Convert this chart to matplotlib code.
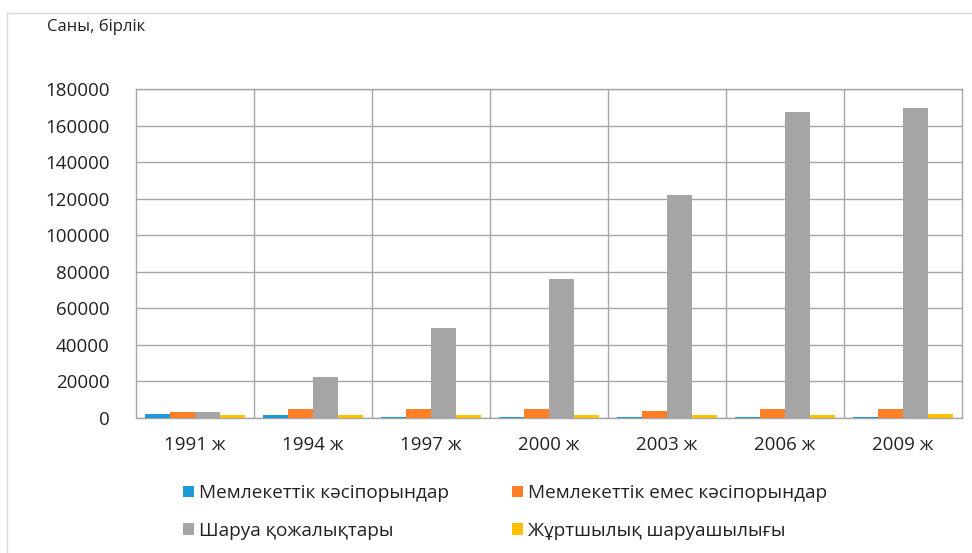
import matplotlib
matplotlib.use("Agg")
import matplotlib.pyplot as plt
from matplotlib.lines import Line2D
from matplotlib.patches import Patch
import numpy as np

plt.rcParams['font.family'] = ['Open Sans', 'Noto Sans', 'DejaVu Sans']

years = ["1991 ж", "1994 ж", "1997 ж", "2000 ж", "2003 ж", "2006 ж", "2009 ж"]
series_names = ["Мемлекеттік кәсіпорындар", "Мемлекеттік емес кәсіпорындар",
                "Шаруа қожалықтары", "Жұртшылық шаруашылығы"]
state = [2400, 1700, 500, 500, 500, 500, 500]
nonstate = [3300, 5100, 5100, 4700, 4000, 5100, 5100]
farms = [3300, 22700, 49300, 76000, 121800, 167300, 169400]
household = [1600, 1600, 1600, 1600, 1600, 1600, 2400]
colors = ["#1E9BD7", "#FF7F27", "#A5A5A5", "#FFC000"]
yticks = [0, 20000, 40000, 60000, 80000, 100000, 120000, 140000, 160000, 180000]

W, H = 972, 553
fig = plt.figure(figsize=(W / 100, H / 100), dpi=100)
ax = fig.add_axes([136 / W, 1 - 418 / H, 826 / W, 329 / H])

x = np.arange(len(years))
bw = 0.21
data = [state, nonstate, farms, household]
for i, (vals, c) in enumerate(zip(data, colors)):
    ax.bar(x + (i - 1.5) * bw, vals, width=bw, color=c, zorder=3, linewidth=0)

ax.set_xlim(-0.5, len(years) - 0.5)
ax.set_ylim(0, 180000)
ax.set_yticks(yticks)
ax.set_yticklabels([str(v) for v in yticks], fontsize=13.5, color="#222222")
ax.set_xticks(x)
ax.set_xticklabels(years, fontsize=13.5, color="#222222")
ax.tick_params(axis='y', length=0, pad=19)
ax.tick_params(axis='x', length=0, pad=13)

gc = "#A6A6A6"
ax.yaxis.grid(True, color=gc, linewidth=1.0, zorder=0)
for b in np.arange(0.5, len(years) - 0.5, 1.0):
    ax.axvline(b, color=gc, linewidth=1.0, zorder=0)
for s in ax.spines.values():
    s.set_color(gc)
    s.set_linewidth(1.0)

fig.text(47 / W, 1 - 27 / H, "Саны, бірлік", fontsize=12, va="center", ha="left", color="#222222")

handles = [Patch(facecolor=c, edgecolor='none') for c in colors]
order = [0, 2, 1, 3]
leg = fig.legend([handles[i] for i in order], [series_names[i] for i in order],
                 ncol=2, loc="center", bbox_to_anchor=(0.52, 1 - 512 / H),
                 frameon=False, fontsize=13.7, handlelength=0.55, handleheight=0.55,
                 handletextpad=0.3, columnspacing=3.3, labelspacing=1.0)
for t in leg.get_texts():
    t.set_color("#222222")

# outer frame (left and top)
fig.add_artist(Line2D([7 / W, 7 / W], [0, 1 - 13 / H], transform=fig.transFigure, color="#D9D9D9", linewidth=1))
fig.add_artist(Line2D([7 / W, 1], [1 - 13 / H, 1 - 13 / H], transform=fig.transFigure, color="#D9D9D9", linewidth=1))

fig.savefig("out.png", dpi=100)
